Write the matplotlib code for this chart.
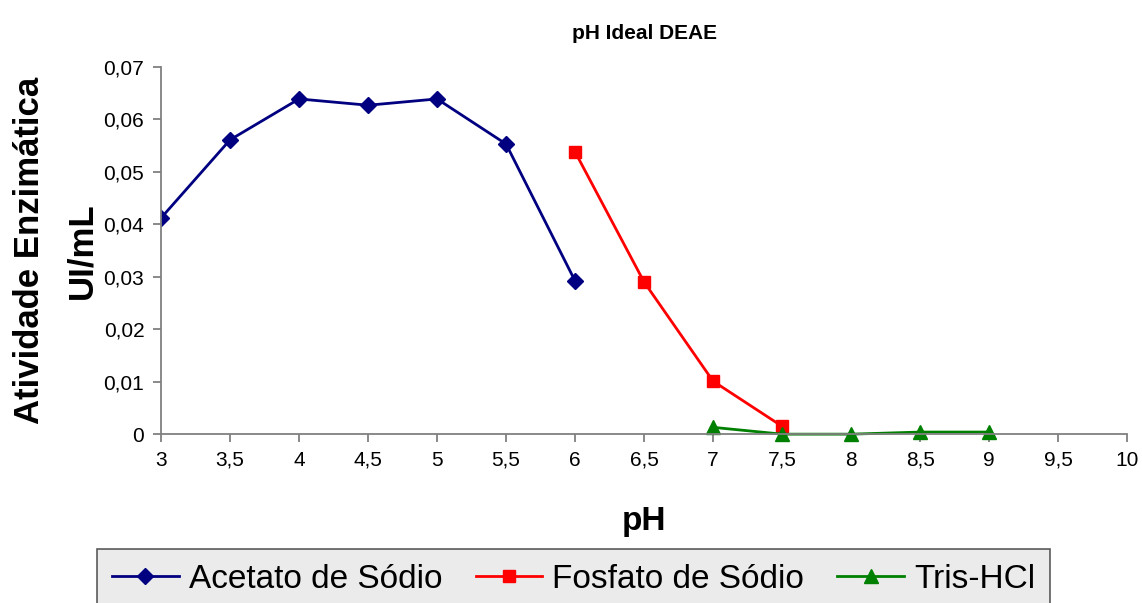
import numpy as np
import matplotlib.pyplot as plt
from matplotlib.ticker import FuncFormatter

plt.rcParams['font.family'] = ['Liberation Sans', 'DejaVu Sans']

## data
ph_acetato = [3, 3.5, 4, 4.5, 5, 5.5, 6]
ativ_acetato = [0.0412, 0.0561, 0.0639, 0.0627, 0.0639, 0.0553, 0.0292]

ph_fosfato = [6, 6.5, 7, 7.5]
ativ_fosfato = [0.0538, 0.0290, 0.0101, 0.0015]

ph_tris = [7, 7.5, 8, 8.5, 9]
ativ_tris = [0.0013, 0.0, 0.0, 0.0004, 0.0004]

x_ticks = np.arange(3, 10.01, 0.5)
y_ticks = np.arange(0, 0.0701, 0.01)

fig = plt.figure(figsize=(11.42, 6.03), dpi=100)
ax = fig.add_axes([0.141, 0.280, 0.846, 0.609])

ax.plot(ph_acetato, ativ_acetato, '-D', color='#000080', lw=2, ms=8, label='Acetato de Sódio')
ax.plot(ph_fosfato, ativ_fosfato, '-s', color='#ff0000', lw=2, ms=9, label='Fosfato de Sódio')
ax.plot(ph_tris, ativ_tris, '-^', color='#008000', lw=2, ms=10, label='Tris-HCl', clip_on=False)

ax.set_xlim(3, 10)
ax.set_ylim(0, 0.07)
ax.set_xticks(x_ticks)
ax.set_yticks(y_ticks)

## decimal comma, like the original
def virgula(v, pos):
    if abs(v) < 1e-9:
        return '0'
    if v < 1:
        return ('%.2f' % v).replace('.', ',')
    return ('%g' % v).replace('.', ',')

ax.xaxis.set_major_formatter(FuncFormatter(virgula))
ax.yaxis.set_major_formatter(FuncFormatter(virgula))
ax.tick_params(direction='out', length=6, width=1.3, color='#808080', labelsize=15, pad=6)

for s in ['top', 'right']:
    ax.spines[s].set_visible(False)
for s in ['left', 'bottom']:
    ax.spines[s].set_color('#808080')
    ax.spines[s].set_linewidth(1.3)

ax.set_title('pH Ideal DEAE', fontsize=15, fontweight='bold', pad=20)
ax.set_xlabel('pH', fontsize=24, fontweight='bold', labelpad=26)
ax.set_ylabel('Atividade Enzimática\nUI/mL', fontsize=25, fontweight='bold', labelpad=4, linespacing=1.75)

leg = fig.legend(loc='upper left', bbox_to_anchor=(0.085, 0.0896), borderaxespad=0, ncol=3, fontsize=24,
                 frameon=True, fancybox=False, facecolor='#e6e6e6', edgecolor='#333333',
                 handlelength=2.0, columnspacing=1.0, handletextpad=0.3, borderpad=0.45)
leg.get_frame().set_linewidth(1.2)

plt.savefig('out.png', dpi=100)
